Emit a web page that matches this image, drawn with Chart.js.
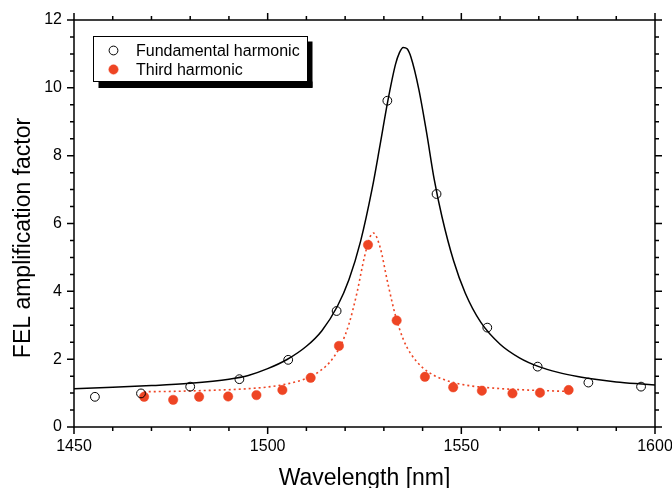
<!DOCTYPE html>
<html>
<head>
<meta charset="utf-8">
<script src="https://cdn.jsdelivr.net/npm/chart.js@4.4.1/dist/chart.umd.min.js"></script>
<style>
  html, body { margin: 0; padding: 0; background: #fff; }
</style>
</head>
<body>
<canvas id="chart" width="672" height="488"></canvas>
<script>
const fundWl = [1455.4, 1467.3, 1480.0, 1492.7, 1505.3, 1517.8, 1530.9, 1543.6, 1556.7, 1569.7, 1582.8, 1596.4];
const fundAmp = [0.89, 0.99, 1.19, 1.41, 1.98, 3.42, 9.62, 6.87, 2.93, 1.78, 1.31, 1.19];
const thirdWl = [1468.1, 1475.6, 1482.3, 1489.8, 1497.1, 1503.8, 1511.1, 1518.4, 1525.9, 1533.3, 1540.6, 1547.9, 1555.3, 1563.2, 1570.3, 1577.7];
const thirdAmp = [0.89, 0.80, 0.89, 0.90, 0.94, 1.09, 1.45, 2.39, 5.37, 3.14, 1.48, 1.17, 1.07, 0.99, 1.01, 1.09];

// fit curves
const fitFundWl = [1450, 1460, 1470, 1480, 1490, 1495, 1500, 1505, 1510, 1514, 1518, 1521, 1524, 1527, 1529, 1531, 1533, 1534, 1535, 1536, 1537, 1539, 1541, 1543, 1545, 1548, 1551, 1555, 1560, 1565, 1570, 1575, 1580, 1585, 1590, 1595, 1600];
const fitFundAmp = [1.13, 1.17, 1.22, 1.29, 1.41, 1.52, 1.72, 1.99, 2.38, 2.84, 3.56, 4.35, 5.48, 7.04, 8.30, 9.60, 10.69, 11.03, 11.19, 11.15, 10.90, 9.97, 8.70, 7.30, 6.20, 4.90, 3.95, 3.09, 2.44, 2.04, 1.78, 1.61, 1.49, 1.40, 1.33, 1.28, 1.24];
const fitThirdWl = [1468, 1475, 1485, 1495, 1500, 1505, 1509, 1512, 1515, 1517, 1519, 1521, 1523, 1525, 1526.5, 1527.3, 1529, 1531, 1533, 1535, 1537, 1540, 1543, 1547, 1552, 1558, 1565, 1572, 1577];
const fitThirdAmp = [1.04, 1.05, 1.08, 1.13, 1.18, 1.27, 1.39, 1.54, 1.79, 2.05, 2.44, 3.04, 3.93, 5.02, 5.62, 5.72, 5.31, 4.25, 3.28, 2.59, 2.15, 1.75, 1.52, 1.34, 1.22, 1.15, 1.10, 1.07, 1.05];

const xMin = 1450, xMax = 1600, xStep = 50, xMinor = 10;
const yMin = 0, yMax = 12, yStep = 2, yMinor = 0.5;

const red = '#ee4524';
const fontFamily = "'Liberation Sans', Arial, sans-serif";
Chart.defaults.font.family = fontFamily;
Chart.defaults.color = '#000';

const toXY = (xs, ys) => xs.map((v, i) => ({ x: v, y: ys[i] }));

// box, ticks on all four sides, axis titles
const framePlugin = {
  id: 'frame',
  afterDatasetsDraw(chart) {
    const { ctx, chartArea: a, scales: { x, y } } = chart;
    ctx.save();
    ctx.strokeStyle = '#000';
    ctx.lineWidth = 1.5;
    ctx.strokeRect(a.left, a.top, a.right - a.left, a.bottom - a.top);
    ctx.beginPath();
    for (let v = xMin; v <= xMax + 1e-6; v += xMinor) {
      const px = x.getPixelForValue(v);
      const len = Math.abs(v % xStep) < 1e-6 ? 7 : 4;
      ctx.moveTo(px, a.bottom); ctx.lineTo(px, a.bottom + len);
      ctx.moveTo(px, a.top); ctx.lineTo(px, a.top - len);
    }
    for (let v = yMin; v <= yMax + 1e-6; v += yMinor) {
      const py = y.getPixelForValue(v);
      const len = Math.abs(v % yStep) < 1e-6 ? 7 : 4;
      ctx.moveTo(a.left, py); ctx.lineTo(a.left - len, py);
      ctx.moveTo(a.right, py); ctx.lineTo(a.right + len, py);
    }
    ctx.stroke();

    ctx.fillStyle = '#000';
    ctx.font = '23px ' + fontFamily;
    ctx.textAlign = 'center';
    ctx.textBaseline = 'alphabetic';
    ctx.fillText('Wavelength [nm]', (a.left + a.right) / 2, 485);
    ctx.translate(30, 238);
    ctx.rotate(-Math.PI / 2);
    ctx.fillText('FEL amplification factor', 0, 0);
    ctx.restore();
  }
};

// legend box with drop shadow, inside the plot
const legendPlugin = {
  id: 'boxLegend',
  afterDraw(chart) {
    const { ctx } = chart;
    const bx = 93.5, by = 36.5, bw = 214, bh = 45;
    ctx.save();
    ctx.fillStyle = '#000';
    ctx.fillRect(bx + 5, by + bh, bw, 6.5);
    ctx.fillRect(bx + bw, by + 5, 5, bh + 1);
    ctx.fillStyle = '#fff';
    ctx.fillRect(bx, by, bw, bh);
    ctx.strokeStyle = '#000';
    ctx.lineWidth = 1;
    ctx.strokeRect(bx, by, bw, bh);

    const items = chart.data.datasets.filter(d => d.inLegend);
    ctx.font = '16px ' + fontFamily;
    ctx.textBaseline = 'alphabetic';
    ctx.textAlign = 'left';
    items.forEach((d, i) => {
      const cy = 50.5 + i * 19;
      ctx.beginPath();
      ctx.arc(113.5, cy, d.pointRadius, 0, Math.PI * 2);
      ctx.fillStyle = d.pointBackgroundColor;
      ctx.fill();
      ctx.lineWidth = d.pointBorderWidth;
      ctx.strokeStyle = d.pointBorderColor;
      ctx.stroke();
      ctx.fillStyle = '#000';
      ctx.fillText(d.label, 136, cy + 5.5);
    });
    ctx.restore();
  }
};

new Chart(document.getElementById('chart'), {
  type: 'scatter',
  data: {
    datasets: [
      {
        label: 'Fundamental harmonic',
        inLegend: true,
        data: toXY(fundWl, fundAmp),
        pointRadius: 4.4,
        pointBackgroundColor: 'rgba(0,0,0,0)',
        pointBorderColor: '#000',
        pointBorderWidth: 1
      },
      {
        label: 'Third harmonic',
        inLegend: true,
        data: toXY(thirdWl, thirdAmp),
        pointRadius: 4.7,
        pointBackgroundColor: red,
        pointBorderColor: red,
        pointBorderWidth: 0.5
      },
      {
        label: 'fit fundamental',
        data: toXY(fitFundWl, fitFundAmp),
        showLine: true,
        pointRadius: 0,
        borderColor: '#000',
        borderWidth: 1.5,
        cubicInterpolationMode: 'monotone'
      },
      {
        label: 'fit third',
        data: toXY(fitThirdWl, fitThirdAmp),
        showLine: true,
        pointRadius: 0,
        borderColor: red,
        borderWidth: 1.6,
        borderDash: [2, 3],
        cubicInterpolationMode: 'monotone'
      }
    ]
  },
  options: {
    responsive: false,
    devicePixelRatio: 1,
    animation: false,
    layout: { padding: { left: 0, right: 17, top: 20, bottom: 0 } },
    plugins: {
      legend: { display: false },
      tooltip: { enabled: false }
    },
    scales: {
      x: {
        type: 'linear',
        min: xMin,
        max: xMax,
        afterFit(s) { s.height = 61; s.paddingLeft = 0; s.paddingRight = 0; },
        grid: { display: false, drawTicks: false },
        border: { display: false },
        ticks: { stepSize: xStep, padding: 10, maxRotation: 0, font: { size: 16 }, color: '#000', callback: v => String(v) }
      },
      y: {
        min: yMin,
        max: yMax,
        afterFit(s) { s.width = 74; s.paddingTop = 0; s.paddingBottom = 0; },
        grid: { display: false, drawTicks: false },
        border: { display: false },
        ticks: { stepSize: yStep, padding: 12, font: { size: 16 }, color: '#000' }
      }
    }
  },
  plugins: [framePlugin, legendPlugin]
});
</script>
</body>
</html>
